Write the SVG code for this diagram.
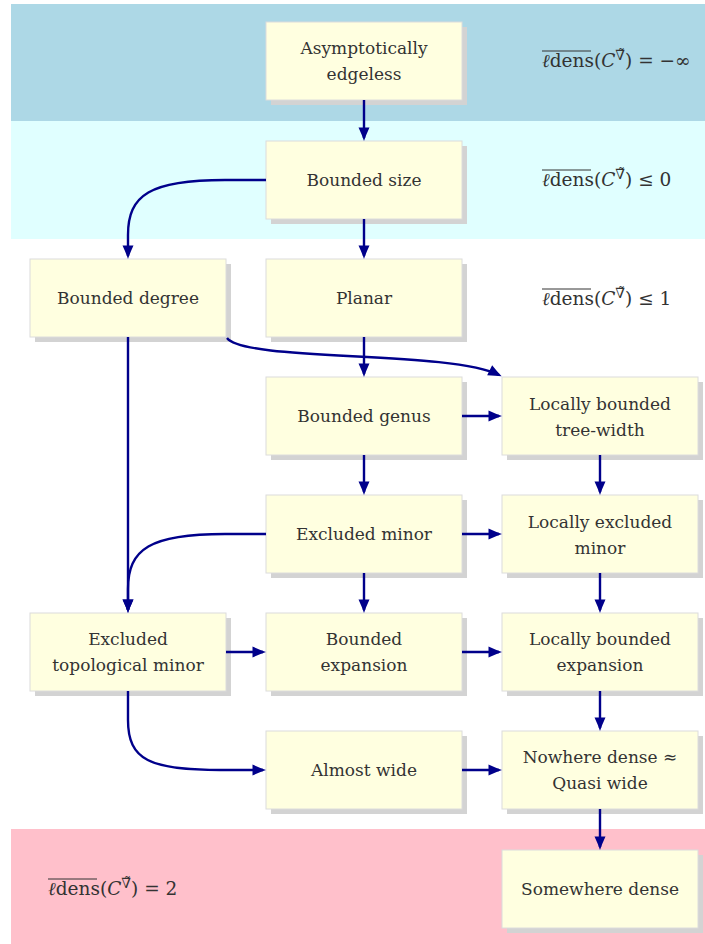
<svg xmlns="http://www.w3.org/2000/svg" width="705" height="944" viewBox="0 0 705 944">
<defs>
<style>
.sh{fill:#D3D3D3}
.bx{fill:#FFFFE0;stroke:#DCDCDC;stroke-width:1}
.t{font-size:17px;fill:#333;text-anchor:middle}
.m{font-size:18.5px;fill:#333}
.s{font-size:14px}
.e{fill:none;stroke:#00008B;stroke-width:2.4;marker-end:url(#ar)}
.ol{stroke:#333;stroke-width:1}
</style>
<marker id="ar" viewBox="-15 -7 17 14" refX="-3" refY="0" markerWidth="17" markerHeight="14" markerUnits="userSpaceOnUse" orient="auto">
<path d="M-13.5,-5.5 Q-6,-2 0,0 Q-6,2 -13.5,5.5 Z" fill="#00008B"/>
</marker>
</defs>
<rect x="11" y="4" width="694" height="117" fill="#ADD8E6"/>
<rect x="11" y="121" width="694" height="118" fill="#E0FFFF"/>
<rect x="11" y="829" width="694" height="115" fill="#FFC0CB"/>

<g font-family="'DejaVu Serif', 'Liberation Serif', serif">
<g id="labels">
<g id="lab1">
<line class="ol" x1="542" y1="51" x2="591" y2="51"/>
<text class="m" x="542" y="67"><tspan font-style="italic">ℓ</tspan>dens(<tspan font-style="italic">C</tspan><tspan class="s" dy="-7">∇̃</tspan><tspan dy="7">) = −∞</tspan></text>
</g>
<g id="lab2">
<line class="ol" x1="542" y1="170" x2="591" y2="170"/>
<text class="m" x="542" y="186"><tspan font-style="italic">ℓ</tspan>dens(<tspan font-style="italic">C</tspan><tspan class="s" dy="-7">∇̃</tspan><tspan dy="7">) ≤ 0</tspan></text>
</g>
<g id="lab3">
<line class="ol" x1="542" y1="289" x2="591" y2="289"/>
<text class="m" x="542" y="305"><tspan font-style="italic">ℓ</tspan>dens(<tspan font-style="italic">C</tspan><tspan class="s" dy="-7">∇̃</tspan><tspan dy="7">) ≤ 1</tspan></text>
</g>
<g id="lab4">
<line class="ol" x1="48" y1="879" x2="97" y2="879"/>
<text class="m" x="48" y="895"><tspan font-style="italic">ℓ</tspan>dens(<tspan font-style="italic">C</tspan><tspan class="s" dy="-7">∇̃</tspan><tspan dy="7">) = 2</tspan></text>
</g>
</g>

<g id="n-asym"><rect class="sh" x="271" y="27" width="196" height="78"/><rect class="bx" x="266" y="22" width="196" height="78"/><text class="t" x="364" y="54">Asymptotically</text><text class="t" x="364" y="80">edgeless</text></g>
<g id="n-bsize"><rect class="sh" x="271" y="146" width="196" height="78"/><rect class="bx" x="266" y="141" width="196" height="78"/><text class="t" x="364" y="186">Bounded size</text></g>
<g id="n-bdeg"><rect class="sh" x="35" y="264" width="196" height="78"/><rect class="bx" x="30" y="259" width="196" height="78"/><text class="t" x="128" y="304">Bounded degree</text></g>
<g id="n-planar"><rect class="sh" x="271" y="264" width="196" height="78"/><rect class="bx" x="266" y="259" width="196" height="78"/><text class="t" x="364" y="304">Planar</text></g>
<g id="n-bgenus"><rect class="sh" x="271" y="382" width="196" height="78"/><rect class="bx" x="266" y="377" width="196" height="78"/><text class="t" x="364" y="422">Bounded genus</text></g>
<g id="n-lbtw"><rect class="sh" x="507" y="382" width="196" height="78"/><rect class="bx" x="502" y="377" width="196" height="78"/><text class="t" x="600" y="410">Locally bounded</text><text class="t" x="600" y="436">tree-width</text></g>
<g id="n-exmin"><rect class="sh" x="271" y="500" width="196" height="78"/><rect class="bx" x="266" y="495" width="196" height="78"/><text class="t" x="364" y="540">Excluded minor</text></g>
<g id="n-lexmin"><rect class="sh" x="507" y="500" width="196" height="78"/><rect class="bx" x="502" y="495" width="196" height="78"/><text class="t" x="600" y="528">Locally excluded</text><text class="t" x="600" y="554">minor</text></g>
<g id="n-extop"><rect class="sh" x="35" y="618" width="196" height="78"/><rect class="bx" x="30" y="613" width="196" height="78"/><text class="t" x="128" y="645">Excluded</text><text class="t" x="128" y="671">topological minor</text></g>
<g id="n-bexp"><rect class="sh" x="271" y="618" width="196" height="78"/><rect class="bx" x="266" y="613" width="196" height="78"/><text class="t" x="364" y="645">Bounded</text><text class="t" x="364" y="671">expansion</text></g>
<g id="n-lbexp"><rect class="sh" x="507" y="618" width="196" height="78"/><rect class="bx" x="502" y="613" width="196" height="78"/><text class="t" x="600" y="645">Locally bounded</text><text class="t" x="600" y="671">expansion</text></g>
<g id="n-awide"><rect class="sh" x="271" y="736" width="196" height="78"/><rect class="bx" x="266" y="731" width="196" height="78"/><text class="t" x="364" y="776">Almost wide</text></g>
<g id="n-nd"><rect class="sh" x="507" y="736" width="196" height="78"/><rect class="bx" x="502" y="731" width="196" height="78"/><text class="t" x="600" y="763">Nowhere dense ≈</text><text class="t" x="600" y="789">Quasi wide</text></g>
<g id="n-sd"><rect class="sh" x="507" y="855" width="196" height="78"/><rect class="bx" x="502" y="850" width="196" height="78"/><text class="t" x="600" y="895">Somewhere dense</text></g>
</g>

<g id="edges">
<path class="e" d="M364,100 L364,138"/>
<path class="e" d="M364,219 L364,256"/>
<path class="e" d="M266,180 L225,180 C150,180 128,195 128,235 L128,256"/>
<path class="e" d="M364,337 L364,374"/>
<path class="e" d="M227,338 C245,362 450,350 499,375"/>
<path class="e" d="M462,416 L499,416"/>
<path class="e" d="M364,455 L364,492"/>
<path class="e" d="M600,455 L600,492"/>
<path class="e" d="M462,534 L499,534"/>
<path class="e" d="M128,337 L128,610"/>
<path class="e" d="M266,534 L225,534 C150,534 128,549 128,589 L128,610"/>
<path class="e" d="M364,573 L364,610"/>
<path class="e" d="M600,573 L600,610"/>
<path class="e" d="M226,652 L263,652"/>
<path class="e" d="M462,652 L499,652"/>
<path class="e" d="M600,691 L600,728"/>
<path class="e" d="M128,691 L128,720 C128,760 150,770 220,770 L263,770"/>
<path class="e" d="M462,770 L499,770"/>
<path class="e" d="M600,809 L600,847"/>
</g>
</svg>
